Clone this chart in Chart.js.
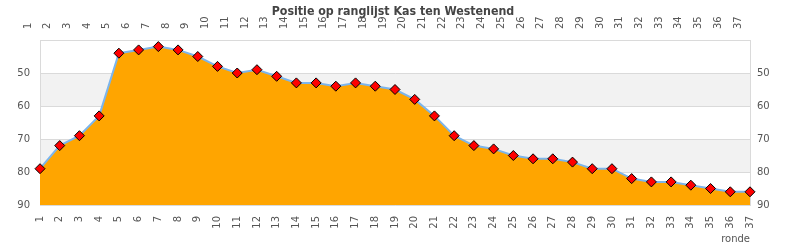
<!DOCTYPE html>
<html><head><meta charset="utf-8">
<script src="https://cdn.jsdelivr.net/npm/chart.js@4"></script>
<style>html,body{margin:0;padding:0;background:#fff}#c{display:block}</style>
</head><body>
<canvas id="c" width="790" height="250"></canvas>
<script>
const rounds = ['1','2','3','4','5','6','7','8','9','10','11','12','13','14','15','16','17','18','19','20','21','22','23','24','25','26','27','28','29','30','31','32','33','34','35','36','37'];
const positions = [79,72,69,63,44,43,42,43,45,48,50,49,51,53,53,54,53,54,55,58,63,69,72,73,75,76,76,77,79,79,82,83,83,84,85,86,86];
const yTickLabels = [50,60,70,80,90];
const shadedBands = [[50,60],[70,80]];
const titleText = 'Positie op ranglijst Kas ten Westenend';
const xAxisTitle = 'ronde';

const tickFont = {family: '"DejaVu Sans", sans-serif', size: 10};
const tickColor = '#555';
const frameColor = '#dadada';

const bandsPlugin = {
  id: 'bands',
  beforeDraw(chart) {
    const {ctx, chartArea, scales} = chart;
    const y = scales.y;
    ctx.save();
    ctx.fillStyle = '#f2f2f2';
    shadedBands.forEach(([a, b]) => {
      const y1 = y.getPixelForValue(a), y2 = y.getPixelForValue(b);
      ctx.fillRect(chartArea.left, Math.min(y1, y2), chartArea.right - chartArea.left, Math.abs(y2 - y1));
    });
    ctx.restore();
  }
};

const titlePlugin = {
  id: 'overlayTitle',
  afterDraw(chart) {
    const {ctx} = chart;
    ctx.save();
    ctx.font = 'bold 12.3px "DejaVu Sans Condensed", "DejaVu Sans", sans-serif';
    ctx.fillStyle = '#444';
    ctx.textAlign = 'center';
    ctx.textBaseline = 'middle';
    ctx.fillText(titleText, 393, 12);
    ctx.restore();
  }
};

const xTicks = {minRotation: 90, maxRotation: 90, autoSkip: false, padding: 11, font: tickFont, color: tickColor};
const yTickCb = v => yTickLabels.includes(v) ? String(v) : '';

new Chart(document.getElementById('c'), {
  type: 'line',
  data: {
    labels: rounds,
    datasets: [{
      data: positions,
      xAxisID: 'x',
      yAxisID: 'y',
      borderColor: '#7cb5ec',
      borderWidth: 2,
      backgroundColor: '#ffa500',
      fill: {value: 90},
      tension: 0,
      pointStyle: 'rectRot',
      pointRadius: 5,
      pointBackgroundColor: '#ff0000',
      pointBorderColor: '#000',
      pointBorderWidth: 1
    }]
  },
  options: {
    responsive: false,
    animation: false,
    devicePixelRatio: 1,
    layout: {padding: 0},
    plugins: {legend: {display: false}, tooltip: {enabled: false}, title: {display: false}},
    scales: {
      x: {
        type: 'category', position: 'bottom', offset: false,
        grid: {display: false, drawTicks: false},
        border: {display: true, color: frameColor},
        ticks: xTicks,
        title: {display: true, text: xAxisTitle, align: 'end', color: tickColor, font: {family: '"DejaVu Sans", sans-serif', size: 10}, padding: {top: 1, bottom: 5}},
        afterFit: s => { s.height = 45; }
      },
      x2: {
        type: 'category', position: 'top', offset: false, labels: rounds,
        grid: {display: false, drawTicks: false},
        border: {display: true, color: frameColor},
        ticks: xTicks,
        afterFit: s => { s.height = 40; }
      },
      y: {
        type: 'linear', position: 'left', reverse: true, min: 40, max: 90,
        grid: {color: frameColor, drawTicks: false},
        border: {display: true, color: frameColor},
        ticks: {stepSize: 10, padding: 10, font: tickFont, color: tickColor, callback: yTickCb},
        afterFit: s => { s.width = 40; }
      },
      y2: {
        type: 'linear', position: 'right', reverse: true, min: 40, max: 90,
        grid: {display: false, drawTicks: false},
        border: {display: true, color: frameColor},
        ticks: {stepSize: 10, padding: 7, font: tickFont, color: tickColor, callback: yTickCb},
        afterFit: s => { s.width = 40; }
      }
    }
  },
  plugins: [bandsPlugin, titlePlugin]
});
</script>
</body></html>
